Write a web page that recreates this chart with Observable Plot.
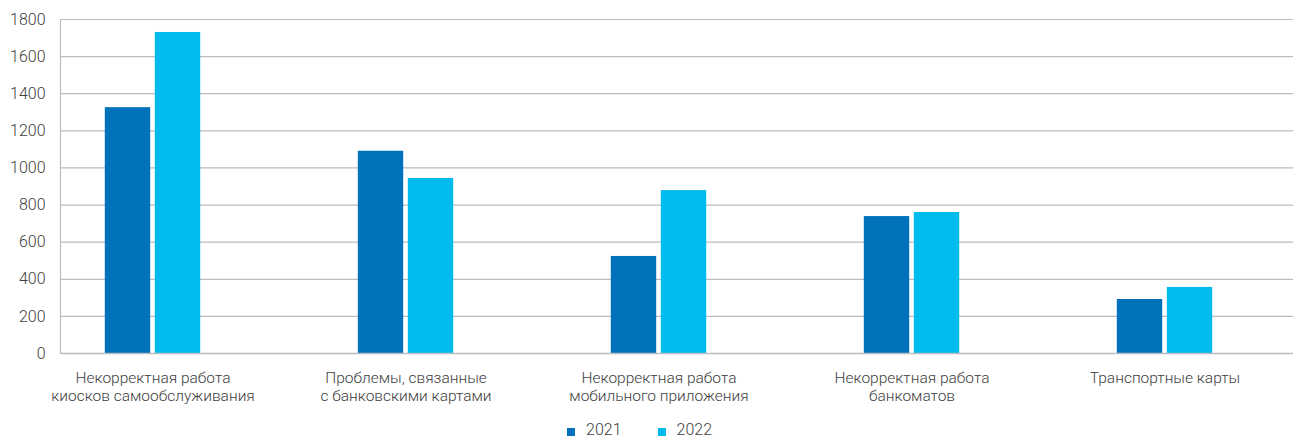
<!DOCTYPE html>
<html>
<head>
<meta charset="utf-8">
<script src="https://cdn.jsdelivr.net/npm/d3@7"></script>
<script src="https://cdn.jsdelivr.net/npm/@observablehq/plot@0.6"></script>
<style>
  html, body { margin: 0; padding: 0; background: #fff; }
  body { width: 1293px; height: 439px; overflow: hidden; font-family: Roboto, "Noto Sans", sans-serif; }
  #legend { display: flex; justify-content: center; align-items: center; height: 22px; font-size: 16px; color: #404040; font-weight: 300; padding-right: 14px; }
  #legend .item { display: flex; align-items: center; margin: 0 18px; }
  #legend .sw { width: 8px; height: 8px; margin-right: 11px; margin-top: 5px; }
</style>
</head>
<body>
<div id="chart"></div>
<div id="legend"></div>
<script>
const categories = [
  "Некорректная работа\nкиосков самообслуживания",
  "Проблемы, связанные\nс банковскими картами",
  "Некорректная работа\nмобильного приложения",
  "Некорректная работа\nбанкоматов",
  "Транспортные карты"
];
const years = ["2021", "2022"];
const values2021 = [1325, 1090, 523, 738, 291];
const values2022 = [1730, 943, 878, 760, 356];
const colors = ["#0072bc", "#00bcee"];
const yTicks = [0, 200, 400, 600, 800, 1000, 1200, 1400, 1600, 1800];

const d2021 = categories.map((c, i) => ({cat: c, year: "2021", value: values2021[i]}));
const d2022 = categories.map((c, i) => ({cat: c, year: "2022", value: values2022[i]}));

const inset = (253.6 - 46) / 2;

const chart = Plot.plot({
  width: 1293,
  height: 418,
  marginLeft: 60,
  marginRight: 0,
  marginTop: 19,
  marginBottom: 65,
  style: {fontFamily: "Roboto, 'Noto Sans', sans-serif", fontSize: "15px", color: "#404040", background: "#fff"},
  x: {domain: categories, range: [24, 1292], padding: 0, label: null},
  y: {domain: [0, 1800], ticks: yTicks, label: null},
  color: {domain: years, range: colors},
  marks: [
    Plot.gridY(yTicks, {stroke: "#b9bdc1", strokeOpacity: 1, strokeWidth: 1.2}),
    Plot.frame({anchor: "left", stroke: "#b9bdc1", strokeWidth: 1.2}),
    Plot.barY(d2021, {x: "cat", y: "value", fill: "year", dx: -25, insetLeft: inset, insetRight: inset}),
    Plot.barY(d2022, {x: "cat", y: "value", fill: "year", dx: 25, insetLeft: inset, insetRight: inset}),
    Plot.ruleY([0], {stroke: "#b9bdc1", strokeWidth: 1.5}),
    Plot.axisY(yTicks, {tickSize: 0, tickPadding: 15, tickFormat: d => String(d), fontWeight: 300, fontSize: 16, fill: "#404040"}),
    Plot.axisX({tickSize: 0, tickPadding: 16, lineHeight: 1.2, fontWeight: 300, fontSize: 15.5, fill: "#404040", label: null})
  ]
});
document.getElementById("chart").appendChild(chart);

const legend = document.getElementById("legend");
years.forEach((y, i) => {
  const item = document.createElement("div");
  item.className = "item";
  const sw = document.createElement("span");
  sw.className = "sw";
  sw.style.background = colors[i];
  const t = document.createElement("span");
  t.textContent = y;
  item.appendChild(sw);
  item.appendChild(t);
  legend.appendChild(item);
});
</script>
</body>
</html>
